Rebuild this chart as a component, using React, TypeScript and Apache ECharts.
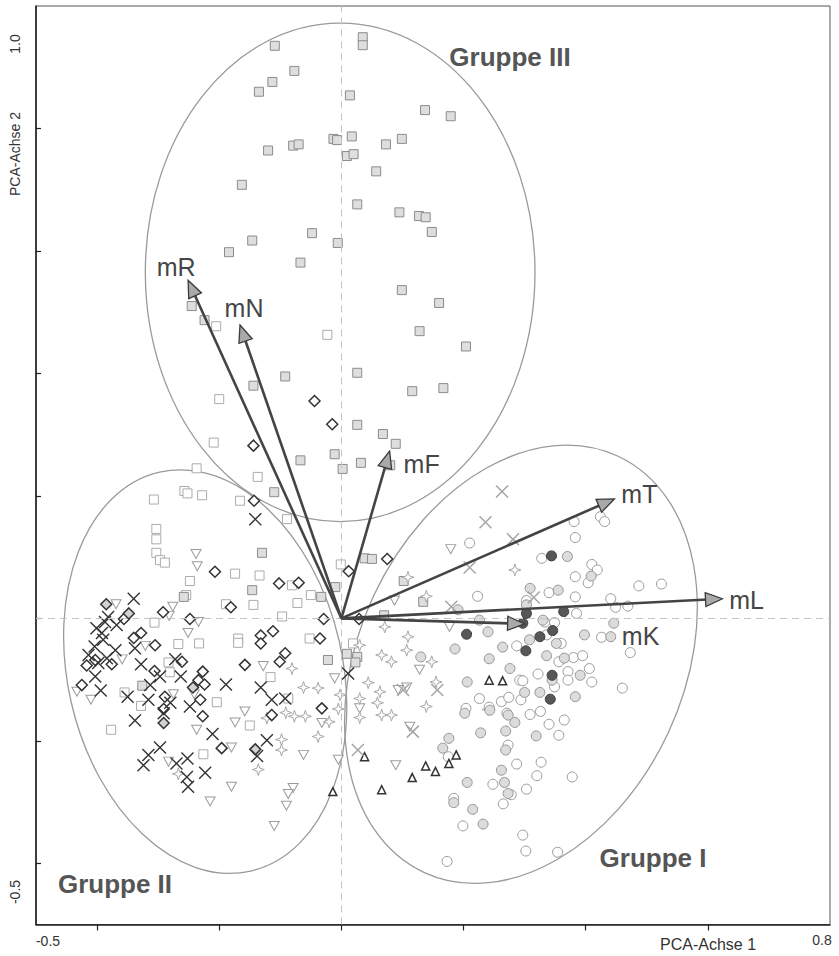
import React, { useEffect, useRef } from "react";
import * as echarts from "echarts";

// ---------- data (PCA scores) ----------
const sqFill: number[][] = [
  [-0.109,0.935],[0.035,0.949],[0.035,0.936],[-0.077,0.894],[-0.113,0.876],[-0.135,0.860],[0.014,0.854],[0.137,0.830],[0.179,0.820],[-0.013,0.783],[-0.007,0.781],[0.017,0.787],[0.073,0.774],[0.099,0.783],[-0.120,0.764],[-0.079,0.772],[-0.070,0.774],[0.009,0.755],[0.020,0.758],[0.057,0.730],[-0.163,0.708],[0.026,0.676],[0.095,0.663],[0.127,0.657],[0.138,0.655],[0.148,0.631],[-0.048,0.629],[-0.146,0.617],[-0.006,0.613],[-0.184,0.598],[-0.067,0.581],[0.099,0.536],[0.160,0.515],[0.128,0.469],[0.204,0.444],[-0.245,0.510],[-0.224,0.487],[-0.092,0.395],[-0.144,0.380],[0.026,0.401],[0.167,0.376],[0.116,0.371],[0.026,0.316],[0.068,0.301],[0.089,0.285],[-0.011,0.268],[-0.067,0.258],[0.032,0.254],[0.002,0.244],[0.080,0.250],[-0.110,0.206],[-0.130,0.107],[-0.146,0.046],[-0.033,0.035],[-0.010,0.051],[0.038,0.098],[0.050,0.097],[0.102,0.061],[0.070,0.005],[-0.258,0.035],[-0.326,-0.110],[-0.022,-0.068],[0.009,-0.058],[0.026,-0.063],[0.023,-0.072],[0.134,0.027]
];
const sqOpen: number[][] = [
  [-0.205,0.477],[-0.023,0.463],[-0.200,0.358],[-0.209,0.287],[-0.237,0.245],[-0.137,0.231],[-0.166,0.192],[-0.089,0.162],[-0.174,0.073],[-0.134,0.070],[-0.081,0.054],[-0.144,0.022],[-0.072,0.025],[-0.050,0.038],[-0.097,0.003],[-0.001,0.088],[-0.169,-0.033],[-0.052,-0.033],[-0.307,0.194],[-0.257,0.208],[-0.252,0.204],[-0.228,0.201],[-0.303,0.146],[-0.303,0.129],[-0.303,0.107],[-0.297,0.095],[-0.289,0.091],[-0.248,0.061],[-0.254,0.038],[-0.189,0.023],[-0.306,-0.007],[-0.267,-0.042],[-0.233,-0.041],[-0.283,-0.072],[-0.281,-0.088],[-0.355,-0.121],[-0.328,-0.143],[-0.204,-0.137],[-0.377,-0.182],[-0.226,-0.222],[-0.169,-0.040],[-0.116,-0.096],[-0.150,-0.175],[-0.087,-0.131],[0.019,-0.041]
];
const diamondOpen: number[][] = [
  [-0.044,0.355],[-0.015,0.317],[-0.144,0.282],[-0.143,0.192],[0.012,0.077],[0.075,0.097],[-0.102,0.057],[-0.070,0.058],[-0.181,0.018],[-0.029,-0.001],[-0.112,-0.021],[-0.132,-0.028],[-0.035,-0.033],[0.029,-0.001],[-0.207,0.076],[-0.356,-0.001],[-0.292,0.010],[-0.248,-0.001],[-0.328,-0.024],[-0.340,-0.032],[-0.305,-0.044],[-0.417,-0.077],[-0.376,-0.075],[-0.425,-0.109],[-0.306,-0.086],[-0.261,-0.071],[-0.227,-0.087],[-0.234,-0.101],[-0.224,-0.108],[-0.289,-0.128],[-0.231,-0.133],[-0.291,-0.148],[-0.227,-0.160],[-0.196,-0.212],[-0.403,-0.068],[-0.132,-0.041],[-0.158,-0.076],[-0.101,-0.071],[-0.092,-0.057],[-0.032,-0.147],[-0.114,-0.158]
];
const diamondFilled: number[][] = [
  [-0.385,0.023],[-0.348,0.008],[-0.243,-0.113],[-0.291,-0.171],[-0.141,-0.214]
];
const crossDark: number[][] = [
  [-0.141,0.162],[-0.340,0.032],[-0.387,-0.006],[-0.368,-0.011],[-0.392,-0.024],[-0.390,-0.035],[-0.404,-0.046],[-0.414,-0.060],[-0.370,-0.052],[-0.384,-0.065],[-0.338,-0.049],[-0.398,-0.073],[-0.403,-0.095],[-0.394,-0.118],[-0.328,-0.075],[-0.272,-0.067],[-0.263,-0.095],[-0.297,-0.095],[-0.313,-0.109],[-0.350,-0.128],[-0.316,-0.133],[-0.280,-0.138],[-0.248,-0.144],[-0.291,-0.155],[-0.338,-0.167],[-0.189,-0.108],[-0.211,-0.189],[-0.297,-0.211],[-0.316,-0.223],[-0.324,-0.240],[-0.270,-0.237],[-0.252,-0.229],[-0.253,-0.259],[-0.251,-0.275],[-0.223,-0.252],[-0.132,-0.113],[-0.114,-0.133],[-0.092,-0.131],[-0.122,-0.199],[-0.138,-0.225],[0.011,-0.090],[-0.382,0.002],[-0.401,-0.016]
];
const triDown: number[][] = [
  [0.087,0.029],[-0.238,0.105],[-0.236,0.085],[-0.369,0.023],[-0.276,0.019],[-0.282,0.004],[-0.234,-0.006],[-0.251,-0.024],[-0.321,-0.045],[-0.359,-0.067],[-0.410,-0.133],[-0.433,-0.120],[-0.275,-0.124],[-0.241,-0.124],[-0.237,-0.182],[-0.180,-0.211],[-0.283,-0.234],[-0.180,-0.275],[-0.215,-0.299],[-0.128,-0.078],[-0.011,-0.098],[-0.158,-0.152],[-0.174,-0.170],[-0.032,-0.171],[-0.062,-0.223],[-0.005,-0.231],[0.030,-0.147],[0.089,-0.240],[-0.079,-0.277],[-0.087,-0.287],[0.107,-0.113],[0.093,-0.117],[0.112,-0.177],[-0.090,-0.306],[-0.110,-0.339],[0.179,0.113],[0.177,-0.014],[0.128,-0.084]
];
const stars: number[][] = [
  [0.071,-0.014],[0.109,0.067],[0.109,-0.030],[-0.267,-0.254],[-0.081,-0.082],[-0.062,-0.113],[-0.038,-0.114],[-0.002,-0.125],[-0.059,-0.160],[-0.077,-0.160],[-0.091,-0.154],[-0.122,-0.163],[-0.020,-0.169],[-0.038,-0.193],[-0.005,-0.148],[0.030,-0.131],[0.030,-0.162],[0.044,-0.105],[0.063,-0.120],[0.059,-0.138],[0.066,-0.060],[0.082,-0.071],[0.107,-0.052],[0.066,-0.158],[0.082,-0.158],[0.030,-0.044],[-0.098,-0.198],[-0.098,-0.215],[-0.136,-0.247],[0.284,0.079],[0.139,0.036],[0.148,-0.071],[0.155,-0.104],[0.139,-0.144],[0.240,-0.149]
];
const crossLight: number[][] = [
  [0.263,0.207],[0.236,0.157],[0.281,0.129],[0.210,0.083],[0.315,0.034],[0.180,0.019],[0.117,-0.185],[0.027,-0.215],[0.101,-0.117],[0.157,-0.117]
];
const triUp: number[][] = [
  [0.038,-0.226],[0.116,-0.260],[0.066,-0.280],[-0.014,-0.283],[0.242,-0.101],[0.264,-0.102],[0.188,-0.223],[0.176,-0.237],[0.138,-0.241],[0.154,-0.250]
];
const circleDark: number[][] = [
  [0.344,0.102],[0.303,0.008],[0.364,0.011],[0.297,-0.008],[0.205,-0.026],[0.346,-0.020],[0.325,-0.030],[0.302,-0.053],[0.345,-0.093],[0.342,-0.132]
];
const circleGrey: number[][] = [
  [0.370,0.101],[0.309,0.049],[0.355,0.046],[0.409,0.069],[0.303,0.022],[0.191,0.014],[0.226,-0.003],[0.330,-0.003],[0.240,-0.022],[0.186,-0.050],[0.264,-0.047],[0.308,-0.035],[0.242,-0.066],[0.336,-0.061],[0.365,-0.065],[0.398,-0.027],[0.276,-0.082],[0.206,-0.104],[0.300,-0.121],[0.325,-0.121],[0.383,-0.128],[0.391,-0.093],[0.202,-0.155],[0.243,-0.150],[0.273,-0.158],[0.284,-0.170],[0.228,-0.187],[0.269,-0.184],[0.319,-0.192],[0.269,-0.215],[0.176,-0.196],[0.166,-0.212],[0.262,-0.248],[0.206,-0.268],[0.267,-0.268],[0.273,-0.286],[0.130,-0.063],[0.352,-0.041],[0.345,-0.101],[0.184,-0.301],[0.215,-0.312],[0.232,-0.336],[0.446,-0.008],[0.441,-0.030]
];
const circleOpen: number[][] = [
  [0.210,0.123],[0.381,0.158],[0.383,0.132],[0.424,0.166],[0.431,0.158],[0.328,0.098],[0.410,0.088],[0.419,0.079],[0.404,0.058],[0.383,0.068],[0.223,0.036],[0.340,0.042],[0.383,0.035],[0.441,0.032],[0.303,0.029],[0.385,0.008],[0.333,-0.006],[0.349,-0.007],[0.287,-0.045],[0.336,-0.027],[0.360,-0.041],[0.426,-0.031],[0.380,-0.064],[0.395,-0.061],[0.356,-0.071],[0.371,-0.087],[0.371,-0.101],[0.406,-0.082],[0.410,-0.104],[0.322,-0.091],[0.292,-0.101],[0.297,-0.102],[0.349,-0.112],[0.226,-0.131],[0.262,-0.136],[0.274,-0.129],[0.294,-0.133],[0.204,-0.147],[0.242,-0.145],[0.271,-0.155],[0.309,-0.157],[0.326,-0.152],[0.340,-0.173],[0.365,-0.166],[0.356,-0.191],[0.273,-0.207],[0.287,-0.238],[0.327,-0.235],[0.320,-0.257],[0.378,-0.259],[0.248,-0.271],[0.303,-0.279],[0.278,-0.288],[0.175,-0.226],[0.184,-0.294],[0.265,-0.303],[0.199,-0.339],[0.297,-0.354],[0.302,-0.380],[0.354,-0.382],[0.173,-0.397],[0.487,0.053],[0.524,0.056],[0.449,0.018],[0.469,0.020],[0.473,-0.056],[0.460,-0.114]
];

// loadings (arrow tips)
const loadingNames = ["mR", "mN", "mF", "mT", "mL", "mK"];
const loadingX = [-0.251, -0.166, 0.079, 0.447, 0.624, 0.300];
const loadingY = [0.552, 0.479, 0.273, 0.195, 0.032, -0.009];

// group ellipses: centre x, centre y, half-width, half-height (data units), tilt (deg, + = anticlockwise)
const groupNames = ["Gruppe I", "Gruppe II", "Gruppe III"];
const ellipseCx = [0.294, -0.223, -0.002];
const ellipseCy = [-0.075, -0.087, 0.565];
const ellipseRx = [0.266, 0.225, 0.319];
const ellipseRy = [0.375, 0.334, 0.407];
const ellipseTilt = [-25, 12.9, 0];

const xTicks = [-0.4, -0.2, 0, 0.2, 0.4, 0.6];
const yTicks = [-0.4, -0.2, 0, 0.2, 0.4, 0.6, 0.8];

// ---------- layout / style ----------
const FONT = '"Liberation Sans", Arial, Helvetica, sans-serif';
const labelOffsets: Record<string, number[]> = {
  mR: [-12, -13], mN: [4, -17], mF: [32, 13], mT: [25, -5], mL: [24, 1], mK: [116, 12],
};
const X_PATH = "path://M0,0L10,10M10,0L0,10";
const STAR_PATH = "path://M5,0L6.2,3.8L10,5L6.2,6.2L5,10L3.8,6.2L0,5L3.8,3.8Z";
const TRI_DOWN = "path://M0,0L10,0L5,9Z";

function scatter(data: number[][], symbol: string, size: any, color: string, border: string, bw: number, z = 3) {
  return {
    type: "scatter",
    data,
    symbol,
    symbolSize: size,
    silent: true,
    z,
    itemStyle: { color, borderColor: border, borderWidth: bw, opacity: 1 },
  };
}

function txt(x: number, y: number, text: string, font: string, fill: string, rotation = 0) {
  return {
    type: "text", x, y, rotation, z: 20,
    style: { text, fill, font, align: "center", verticalAlign: "middle", textAlign: "center", textVerticalAlign: "middle" },
  };
}

export default function App() {
  const ref = useRef<HTMLDivElement>(null);
  useEffect(() => {
    if (!ref.current) return;
    const chart = echarts.init(ref.current, undefined, { renderer: "svg" });
    const option: any = {
      animation: false,
      backgroundColor: "#ffffff",
      grid: {
        left: 36, right: 9, top: 6, bottom: 31.5,
        containLabel: false, outerBoundsMode: "none",
        show: true, borderColor: "#555", borderWidth: 1,
      },
      xAxis: {
        type: "value", min: -0.5, max: 0.8,
        axisLine: { show: true, onZero: false, lineStyle: { color: "#222", width: 1.6 } },
        axisTick: { show: true, customValues: xTicks, length: 6, lineStyle: { color: "#222", width: 1.2 } },
        axisLabel: { show: false },
        splitLine: { show: false },
      },
      yAxis: {
        type: "value", min: -0.5, max: 1.0,
        axisLine: { show: true, onZero: false, lineStyle: { color: "#222", width: 1.6 } },
        axisTick: { show: true, inside: true, customValues: yTicks, length: 5, lineStyle: { color: "#222", width: 1.2 } },
        axisLabel: { show: false },
        splitLine: { show: false },
      },
      series: [
        {
          type: "custom",
          silent: true,
          z: 1,
          data: groupNames.map((_, i) => [ellipseCx[i], ellipseCy[i], ellipseRx[i], ellipseRy[i], ellipseTilt[i]]),
          encode: { x: 0, y: 1 },
          renderItem: (params: any, api: any) => {
            const c = api.coord([api.value(0), api.value(1)]);
            const s = api.size([api.value(2), api.value(3)]);
            return {
              type: "ellipse",
              x: c[0], y: c[1],
              rotation: (api.value(4) * Math.PI) / 180,
              shape: { cx: 0, cy: 0, rx: s[0], ry: s[1] },
              style: { fill: "none", stroke: "#9a9a9a", lineWidth: 1.3 },
            };
          },
          markLine: {
            silent: true,
            symbol: ["none", "none"],
            label: { show: false },
            lineStyle: { color: "#c4c4c4", type: [7, 5], width: 1 },
            data: [{ xAxis: 0 }, { yAxis: 0 }],
          },
        },
        scatter(sqOpen, "rect", 9, "#ffffff", "#ababab", 1),
        scatter(sqFill, "rect", 9, "#dedede", "#8c8c8c", 1),
        scatter(triDown, TRI_DOWN, [10, 9], "#ffffff", "#9c9c9c", 1),
        scatter(stars, STAR_PATH, 12, "#ffffff", "#a8a8a8", 1),
        scatter(diamondOpen, "diamond", 11, "#ffffff", "#333333", 1.5),
        scatter(diamondFilled, "diamond", 11, "#d2d2d2", "#333333", 1.5),
        scatter(crossDark, X_PATH, 12, "transparent", "#333333", 1.4),
        scatter(circleOpen, "circle", 10, "#ffffff", "#9a9a9a", 1),
        scatter(circleGrey, "circle", 10, "#dcdcdc", "#959595", 1),
        scatter(circleDark, "circle", 10, "#575757", "#3c3c3c", 1),
        scatter(triUp, "triangle", 8, "#ffffff", "#333333", 1.5),
        scatter(crossLight, X_PATH, 12, "transparent", "#a5a5a5", 1.5),
        {
          type: "custom",
          silent: true,
          z: 10,
          data: loadingNames.map((_, i) => [loadingX[i], loadingY[i]]),
          encode: { x: 0, y: 1 },
          renderItem: (params: any, api: any) => {
            const o = api.coord([0, 0]);
            const t = api.coord([api.value(0), api.value(1)]);
            const dx = t[0] - o[0];
            const dy = t[1] - o[1];
            const len = Math.hypot(dx, dy) || 1;
            const ux = dx / len;
            const uy = dy / len;
            const L = 17;
            const W = 7;
            const bx = t[0] - ux * L;
            const by = t[1] - uy * L;
            const p1 = [bx - uy * W, by + ux * W];
            const p2 = [bx + uy * W, by - ux * W];
            const name = loadingNames[params.dataIndex];
            const off = labelOffsets[name];
            return {
              type: "group",
              children: [
                { type: "line", shape: { x1: o[0], y1: o[1], x2: bx + ux * 2, y2: by + uy * 2 }, style: { stroke: "#444", lineWidth: 2.6 } },
                { type: "polygon", shape: { points: [t, p1, p2] }, style: { fill: "#a9a9a9", stroke: "#3a3a3a", lineWidth: 1.3 } },
                {
                  type: "text", x: t[0] + off[0], y: t[1] + off[1],
                  style: { text: name, fill: "#454545", font: `25px ${FONT}`, align: "center", verticalAlign: "middle", textAlign: "center", textVerticalAlign: "middle" },
                },
              ],
            };
          },
        },
      ],
      graphic: [
        txt(510, 57, "Gruppe III", `bold 26px ${FONT}`, "#555"),
        txt(115, 884, "Gruppe II", `bold 26px ${FONT}`, "#555"),
        txt(653, 858, "Gruppe I", `bold 26px ${FONT}`, "#555"),
        txt(48, 941, "-0.5", `14px ${FONT}`, "#333"),
        txt(822, 940, "0.8", `14px ${FONT}`, "#333"),
        txt(708, 944, "PCA-Achse 1", `16px ${FONT}`, "#333"),
        txt(15, 44, "1.0", `14px ${FONT}`, "#333", Math.PI / 2),
        txt(15, 892, "-0.5", `14px ${FONT}`, "#333", Math.PI / 2),
        txt(15, 154, "PCA-Achse 2", `14px ${FONT}`, "#333", Math.PI / 2),
      ],
    };
    chart.setOption(option);
    return () => chart.dispose();
  }, []);
  return <div ref={ref} style={{ position: "absolute", left: 0, top: 0, width: 839, height: 956 }} />;
}
